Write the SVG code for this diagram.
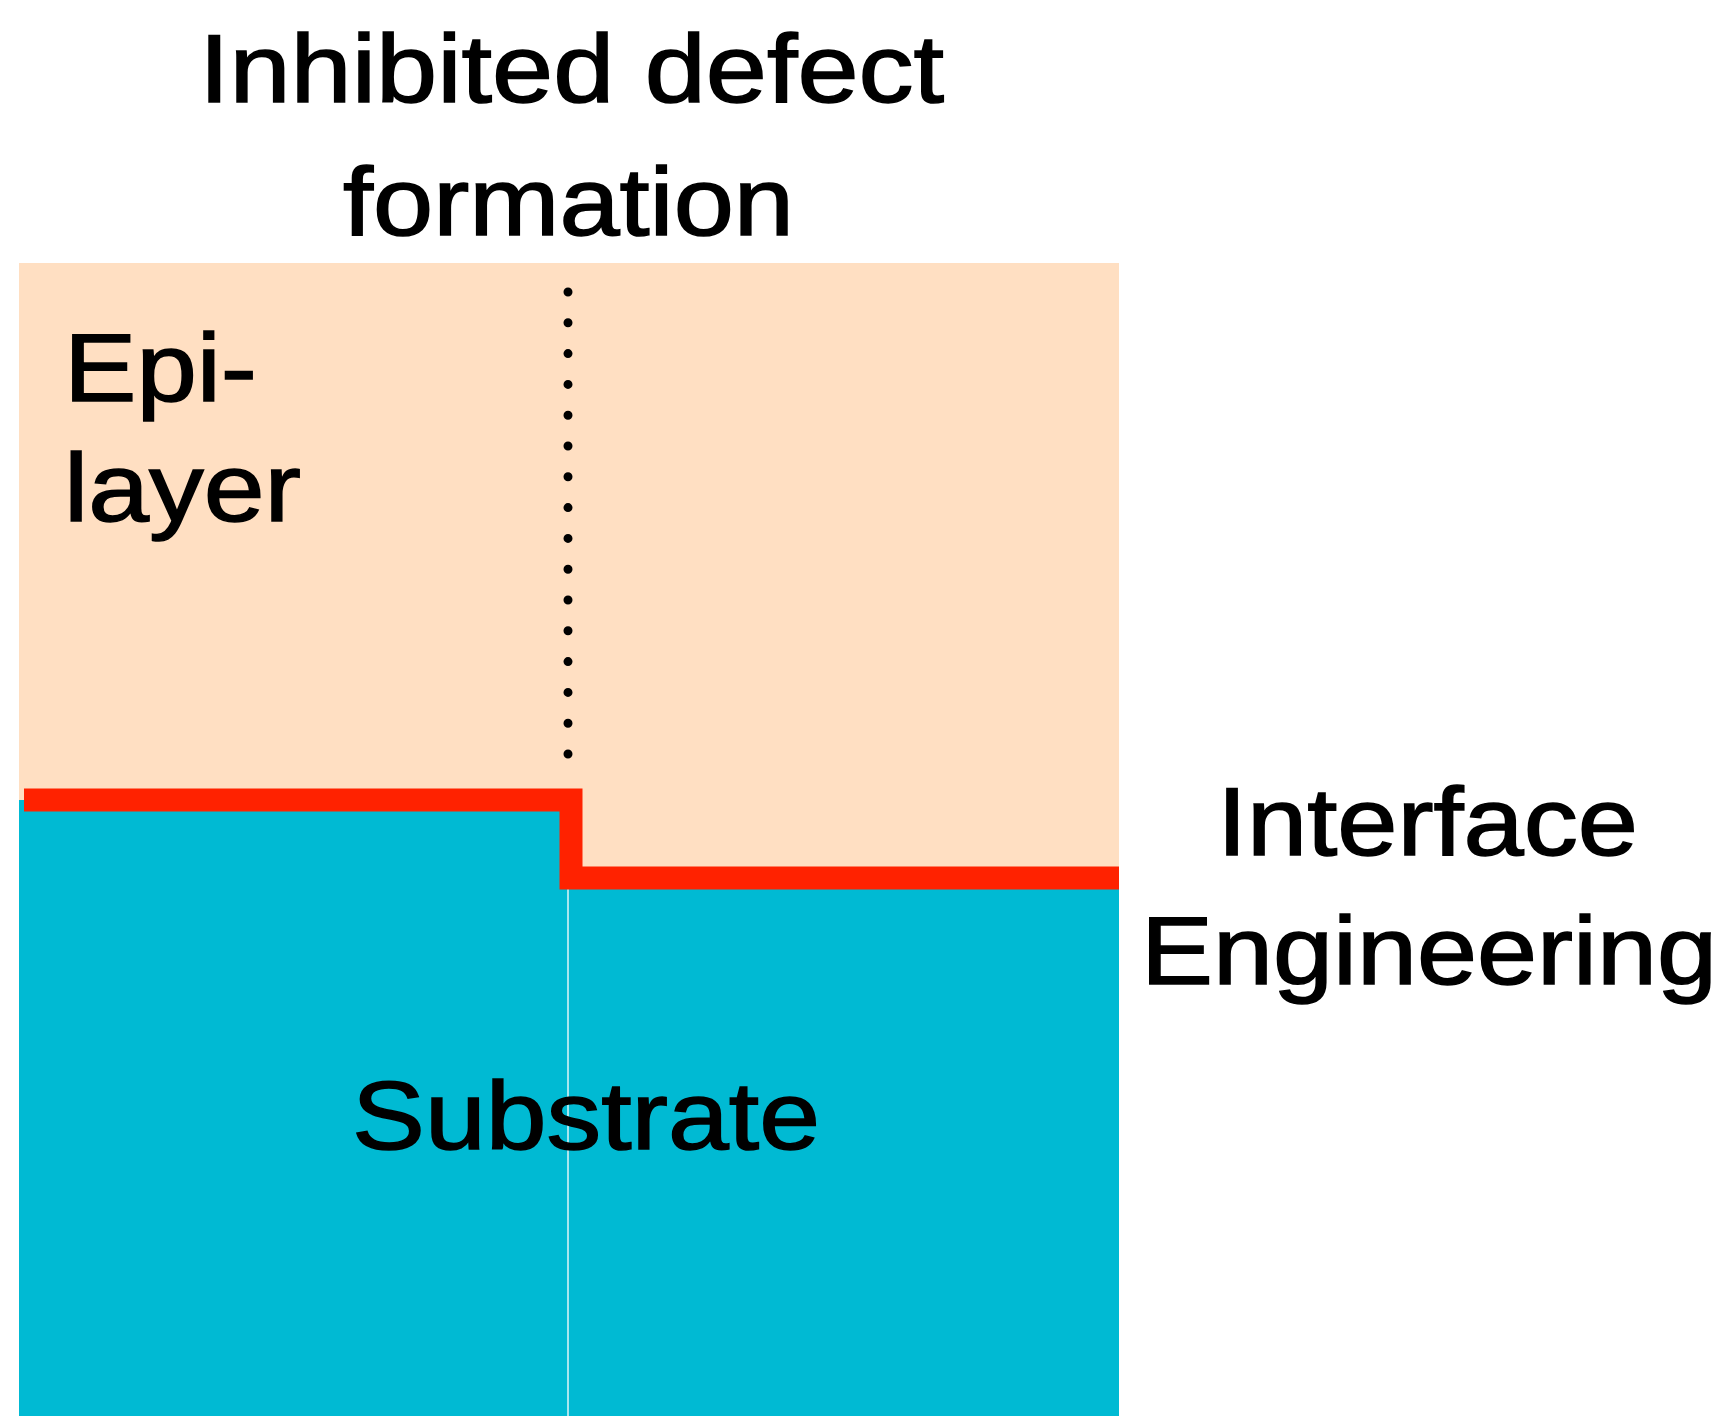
<svg xmlns="http://www.w3.org/2000/svg" width="1729" height="1425" viewBox="0 0 1729 1425">
<style>
text{font-family:"Liberation Sans",Arial,sans-serif;font-size:96px;fill:#000;stroke:#000;stroke-width:1.5}
</style>
<rect width="1729" height="1425" fill="#fff"/>
<g id="epilayer"><rect x="19" y="263" width="1100" height="620" fill="#FFDFC2"/></g>
<g id="substrate">
<path d="M19 800 H571 V878 H1119 V1416 H19 Z" fill="#00BAD3"/>
<line x1="568" y1="885" x2="568" y2="1416" stroke="#e0f4f8" stroke-width="1.5"/>
</g>
<g id="connectors">
<line x1="568" y1="292" x2="568" y2="755" stroke="#000" stroke-width="9" stroke-linecap="round" stroke-dasharray="0 30.8"/>
<path d="M24 800 H571 V878 H1119" fill="none" stroke="#FF2200" stroke-width="23"/>
</g>
<g id="labels">
<text x="199" y="102" textLength="745" lengthAdjust="spacingAndGlyphs">Inhibited defect</text>
<text x="343" y="235" textLength="451" lengthAdjust="spacingAndGlyphs">formation</text>
<text x="64" y="401" textLength="193" lengthAdjust="spacingAndGlyphs">Epi-</text>
<text x="64" y="521" textLength="237" lengthAdjust="spacingAndGlyphs">layer</text>
<text x="1217" y="855" textLength="421" lengthAdjust="spacingAndGlyphs">Interface</text>
<text x="1141" y="984" textLength="576" lengthAdjust="spacingAndGlyphs">Engineering</text>
<text x="352" y="1149" textLength="468" lengthAdjust="spacingAndGlyphs">Substrate</text>
</g>
</svg>
